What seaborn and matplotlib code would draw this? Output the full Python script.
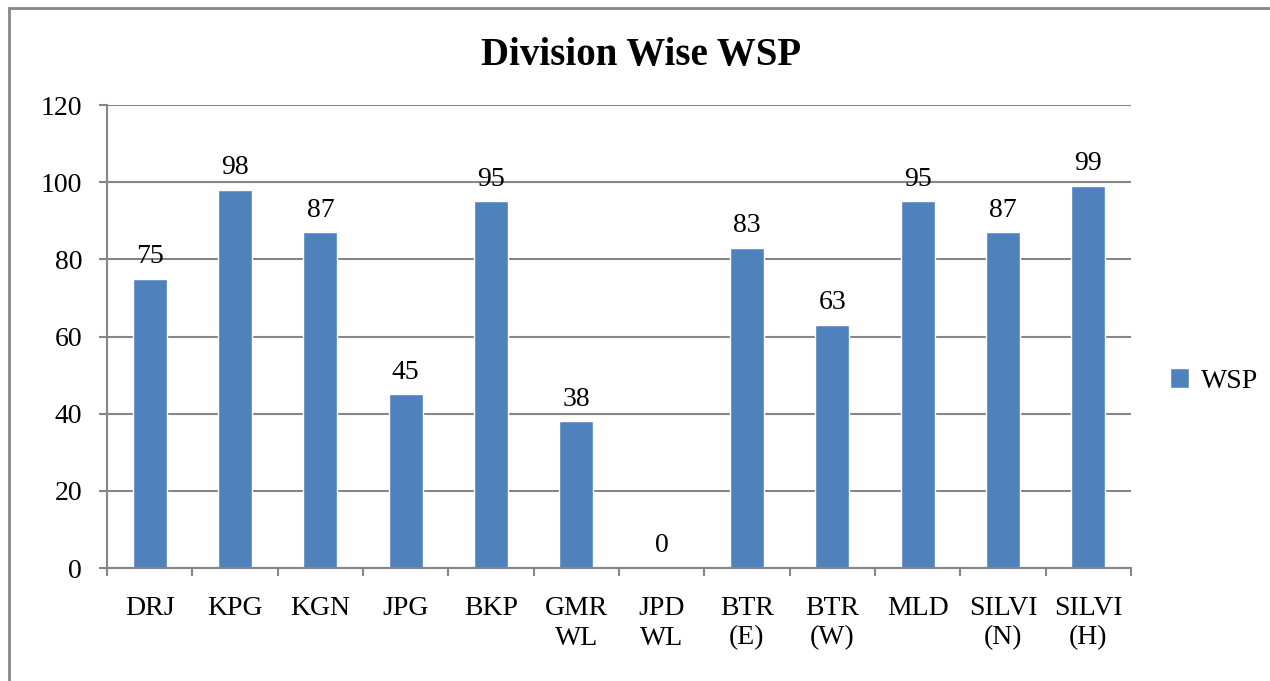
import numpy as np
import pandas as pd
import matplotlib
matplotlib.use('Agg')
import matplotlib.pyplot as plt
import seaborn as sns
from matplotlib.patches import Rectangle

divisions = ['DRJ', 'KPG', 'KGN', 'JPG', 'BKP', 'GMR\nWL', 'JPD\nWL',
             'BTR\n(E)', 'BTR\n(W)', 'MLD', 'SILVI\n(N)', 'SILVI\n(H)']
wsp = [75, 98, 87, 45, 95, 38, 0, 83, 63, 95, 87, 99]
yticks = [0, 20, 40, 60, 80, 100, 120]

df = pd.DataFrame({'Division': divisions, 'WSP': wsp})

sns.set_style('white')
plt.rcParams['font.family'] = ['Liberation Serif', 'DejaVu Serif']
plt.rcParams['text.color'] = 'black'
plt.rcParams['xtick.color'] = 'black'
plt.rcParams['ytick.color'] = 'black'

grey = '#868686'
blue = '#4F81BD'
fs = 20

fig = plt.figure(figsize=(12.7, 6.81), dpi=100)
ax = fig.add_axes([107/1270, 1 - 568/681, 1024/1270, 463/681])

sns.barplot(data=df, x='Division', y='WSP', color=blue, saturation=1,
            width=0.4, label='WSP', ax=ax)

ax.bar_label(ax.containers[0], fmt='%g', padding=7, fontsize=fs)

ax.set_ylim(0, 120)
ax.set_xlim(-0.5, len(divisions) - 0.5)
ax.set_yticks(yticks)
ax.yaxis.grid(True, color=grey, linewidth=1.5)
ax.set_axisbelow(True)
ax.set_xlabel('')
ax.set_ylabel('')

for s in ['top', 'right']:
    ax.spines[s].set_visible(False)
for s in ['left', 'bottom']:
    ax.spines[s].set_color(grey)
    ax.spines[s].set_linewidth(1.5)

ax.tick_params(axis='y', direction='out', length=6, width=1.5, color=grey,
               labelsize=fs, labelcolor='black', pad=12, left=True)
ax.tick_params(axis='x', which='major', length=0, labelsize=fs,
               labelcolor='black', pad=20)
for t in ax.get_xticklabels():
    t.set_linespacing(1.25)
ax.set_xticks(np.arange(-0.5, len(divisions)), minor=True)
ax.tick_params(axis='x', which='minor', direction='out', length=6, width=1.5,
               color=grey, bottom=True)

ax.legend(loc='center left', bbox_to_anchor=(1145/1270, 1 - 381/681),
          bbox_transform=fig.transFigure, frameon=False, fontsize=fs,
          handlelength=0.7, handleheight=0.7, handletextpad=0.4)

fig.text(641/1270, 1 - 55/681, 'Division Wise WSP', ha='center', va='center',
         fontsize=28, fontweight='bold')

fig.patches.append(Rectangle((9/1270, -0.1), 1.2, 1.1 - 8/681,
                             transform=fig.transFigure, fill=False,
                             edgecolor=grey, linewidth=2, zorder=0))

fig.savefig('out.png', dpi=100)
